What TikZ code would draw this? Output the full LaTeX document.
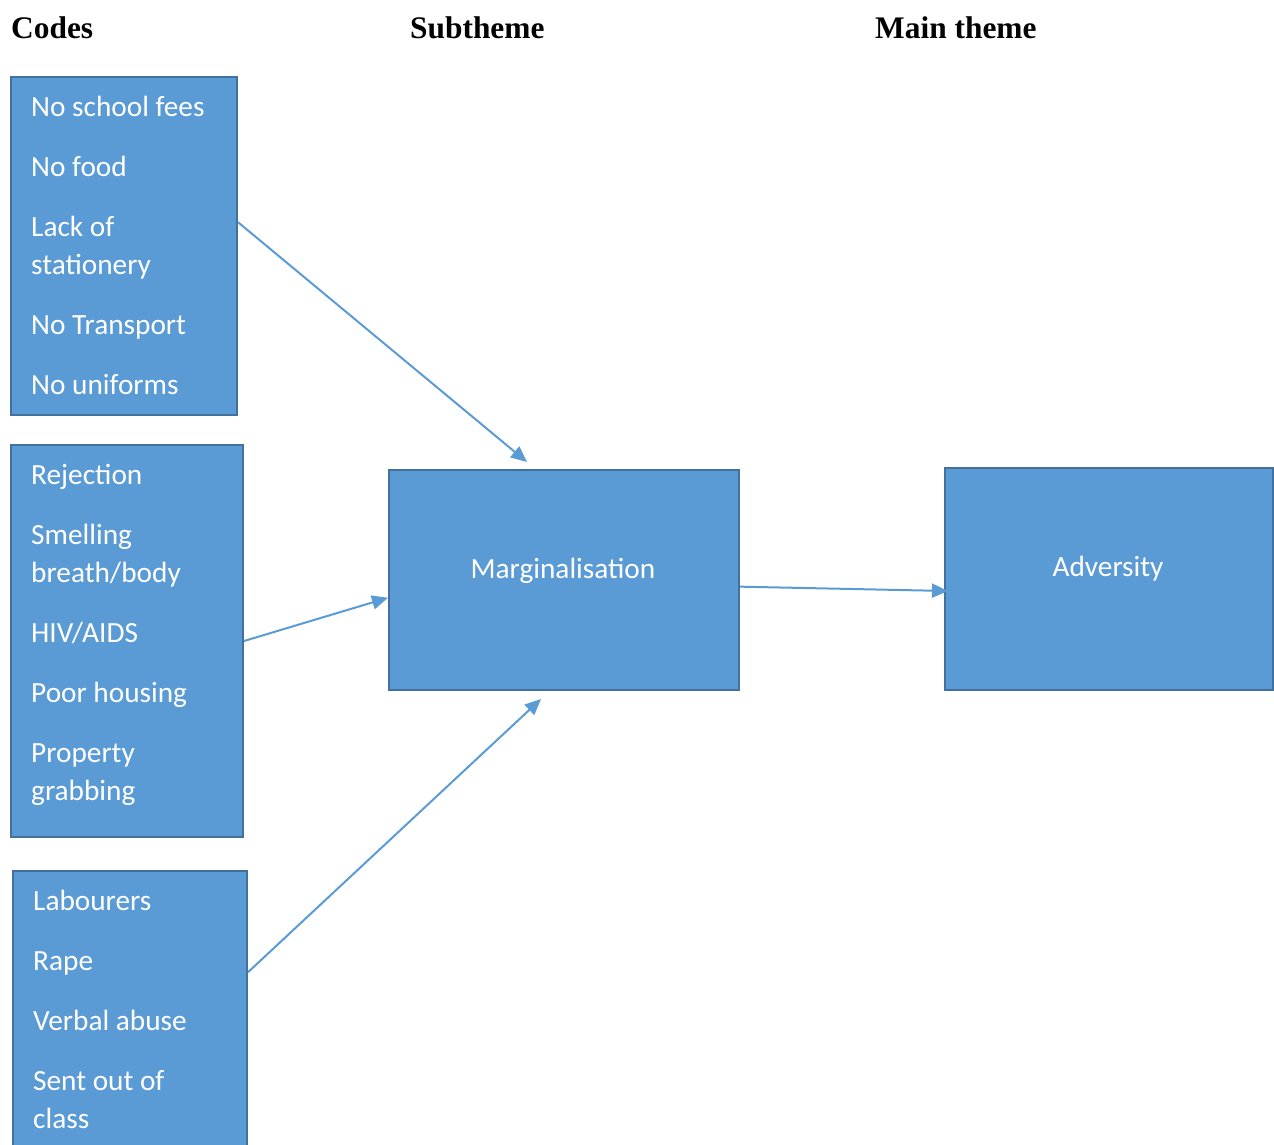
\documentclass[tikz,border=0pt]{standalone}
\usepackage{fontspec}
\setmainfont{Carlito}
\newfontfamily\headfont{Liberation Serif}
\usetikzlibrary{arrows.meta,calc}
\definecolor{boxblue}{HTML}{5B9BD5}
\definecolor{boxedge}{HTML}{41719C}

\tikzset{
  codebox/.style={draw=boxedge, fill=boxblue, line width=2pt, rectangle, inner sep=0pt, anchor=north west},
  codetext/.style={anchor=north west, inner sep=0pt, align=left, text=white, font=\fontsize{29.3}{38}\selectfont},
  themetext/.style={text=white, inner sep=0pt, font=\fontsize{29.3}{38}\selectfont},
  headtext/.style={anchor=base west, inner sep=0pt, font=\headfont\bfseries\fontsize{31.4}{38}\selectfont},
  link/.style={draw=boxblue, line width=2pt, -{Triangle[length=16pt,width=14pt]}}
}

\begin{document}
\begin{tikzpicture}[x=1pt, y=-1pt]
\useasboundingbox (0,0) rectangle (1274,1144);

% column heads
\node[headtext] (hcodes) at (11,38) {Codes};
\node[headtext] (hsub) at (410,38) {Subtheme};
\node[headtext] (hmain) at (875,38) {Main theme};

% code boxes
\node[codebox, minimum width=226pt, minimum height=338pt] (codesA) at (10,76) {};
\node[codetext] (listA) at (31,96) {No school fees\\[22pt]No food\\[22pt]Lack of\\stationery\\[22pt]No Transport\\[22pt]No uniforms};

\node[codebox, minimum width=232pt, minimum height=392pt] (codesB) at (10,444) {};
\node[codetext] (listB) at (31,464) {Rejection\\[22pt]Smelling\\breath/body\\[22pt]HIV/AIDS\\[22pt]Poor housing\\[22pt]Property\\grabbing};

\node[codebox, minimum width=234pt, minimum height=290pt] (codesC) at (12,870) {};
\node[codetext] (listC) at (33,890) {Labourers\\[22pt]Rape\\[22pt]Verbal abuse\\[22pt]Sent out of\\class};

% themes
\node[codebox, minimum width=350pt, minimum height=220pt] (marg) at (388,469) {};
\node[themetext] (margtext) at (563,571) {Marginalisation};

\node[codebox, minimum width=328pt, minimum height=222pt] (advers) at (944,467) {};
\node[themetext] (adverstext) at (1108,569) {Adversity};

% arrows
\coordinate (tipA) at (527,462);
\coordinate (tipC) at (541,699);
\coordinate (tipD) at (948,591);
\draw[link] ($(codesA.north east)!0.43!(codesA.south east)$) -- (tipA);
\draw[link] (codesB.east) -- ($(marg.north west)!0.58!(marg.south west)$);
\draw[link] ($(codesC.north east)!0.35!(codesC.south east)$) -- (tipC);
\draw[link] ($(marg.north east)!0.53!(marg.south east)$) -- (tipD);
\end{tikzpicture}
\end{document}
